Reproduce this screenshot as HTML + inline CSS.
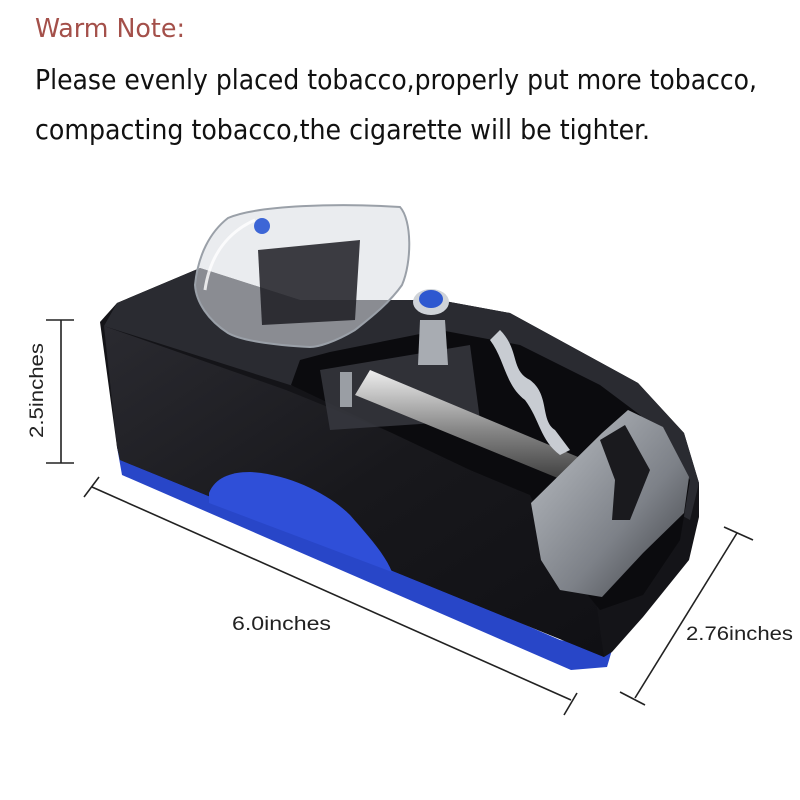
<!DOCTYPE html>
<html><head><meta charset="utf-8"><style>
html,body{margin:0;padding:0;background:#fff;width:800px;height:800px;overflow:hidden}
svg{display:block}
</style></head><body>
<svg width="800" height="800" viewBox="0 0 800 800" xmlns="http://www.w3.org/2000/svg">
<defs>
<linearGradient id="front" x1="0" y1="0" x2="1" y2="1">
<stop offset="0" stop-color="#2a2a30"/><stop offset="0.5" stop-color="#18181c"/><stop offset="1" stop-color="#101014"/></linearGradient>
<linearGradient id="rod" x1="0" y1="0" x2="0" y2="1">
<stop offset="0" stop-color="#eee"/><stop offset="0.5" stop-color="#888"/><stop offset="1" stop-color="#333"/></linearGradient>
<linearGradient id="tray" x1="0" y1="0" x2="1" y2="1">
<stop offset="0" stop-color="#bfc3c8"/><stop offset="0.6" stop-color="#7d8188"/><stop offset="1" stop-color="#3a3c40"/></linearGradient>
</defs>
<g font-family="'DejaVu Sans Condensed','Liberation Sans Narrow','Liberation Sans',sans-serif">
<text x="35" y="37" font-size="26" fill="#a4504a" textLength="150" lengthAdjust="spacingAndGlyphs">Warm Note:</text>
<text x="35" y="89" font-size="28" fill="#111" textLength="722" lengthAdjust="spacingAndGlyphs">Please evenly placed tobacco,properly put more tobacco,</text>
<text x="35" y="139" font-size="28" fill="#111" textLength="615" lengthAdjust="spacingAndGlyphs">compacting tobacco,the cigarette will be tighter.</text>
</g>
<!-- blue base -->
<path d="M117,447 L122,475 L571,670 L607,667 L612,650 L560,640 Z" fill="#2846c8"/>
<!-- body silhouette -->
<path d="M117,303 L200,268 L300,300 L439,300 L510,313 L638,383 L684,433 L699,483 L699,517 L689,560 L643,617 L612,652 L604,657 L120,460 L117,447 L100,322 Z" fill="#141418"/>
<!-- top surface -->
<path d="M117,303 L200,268 L300,300 L439,300 L510,313 L638,383 L684,433 L699,483 L690,520 L600,470 L530,440 L290,385 L104,326 Z" fill="#2a2b31"/>
<!-- front face -->
<path d="M104,326 L286,390 L525,487 L560,520 L597,607 L604,657 L120,460 L117,447 Z" fill="url(#front)"/>
<!-- blue arch -->
<path d="M209,503 L209,493 C215,478 230,472 250,472 C290,474 330,495 350,515 C372,540 385,555 392,572 Z" fill="#2f4fd8"/>
<!-- cavity -->
<path d="M291,385 L300,360 L330,352 L440,330 L520,345 L600,385 L640,415 L690,480 L680,540 L643,595 L600,610 L560,560 L530,495 L470,470 Z" fill="#0b0b0e"/>
<!-- mechanism -->
<path d="M320,370 L470,345 L480,420 L330,430 Z" fill="#3a3b42" opacity="0.8"/>
<path d="M355,395 L370,370 L590,462 L582,488 Z" fill="url(#rod)"/>
<path d="M500,330 C520,350 510,370 530,380 C550,395 540,420 555,430 L570,450 L560,455 C540,440 540,420 525,400 C505,385 505,360 490,340 Z" fill="#c8ccd2"/>
<path d="M420,320 L445,320 L448,365 L418,365 Z" fill="#a8acb2"/>
<rect x="340" y="372" width="12" height="35" fill="#9a9ea4"/>
<!-- tray -->
<path d="M531,503 L602,433 L628,410 L663,427 L689,477 L684,513 L643,553 L602,597 L560,590 L541,560 Z" fill="url(#tray)"/>
<path d="M600,440 L625,425 L650,470 L630,520 L612,520 L615,480 Z" fill="#1a1a1e"/>
<!-- knob -->
<ellipse cx="431" cy="302" rx="18" ry="13" fill="#cfd3d8"/>
<ellipse cx="431" cy="299" rx="12" ry="9" fill="#2e58d0"/>
<!-- lid -->
<path d="M195,285 C198,255 210,232 228,218 C258,205 340,203 400,207 C412,220 412,262 402,285 C388,305 365,322 355,330 C335,342 318,347 310,347 C270,345 240,340 228,333 C208,320 196,302 195,285 Z" fill="#d9dde2" fill-opacity="0.55" stroke="#9aa0a8" stroke-width="2"/>
<path d="M258,250 L360,240 L355,320 L262,325 Z" fill="#1c1c22" opacity="0.85"/>
<path d="M205,290 C210,255 228,232 255,220" stroke="#fff" stroke-width="3" fill="none" opacity="0.8"/>
<circle cx="262" cy="226" r="8" fill="#3d66d6"/>
<!-- dimension lines -->
<g stroke="#222" stroke-width="1.6" fill="none">
<line x1="61" y1="320" x2="61" y2="463"/>
<line x1="46" y1="320" x2="74" y2="320"/>
<line x1="46" y1="463" x2="74" y2="463"/>
<line x1="92" y1="487" x2="571" y2="700"/>
<line x1="84" y1="497" x2="99" y2="477"/>
<line x1="564" y1="715" x2="577" y2="693"/>
<line x1="737" y1="533" x2="635" y2="698"/>
<line x1="724" y1="527" x2="753" y2="540"/>
<line x1="620" y1="692" x2="645" y2="705"/>
</g>
<g font-family="'Liberation Sans',sans-serif" font-size="19" fill="#222">
<text x="232" y="630" textLength="99" lengthAdjust="spacingAndGlyphs">6.0inches</text>
<text x="686" y="640" textLength="107" lengthAdjust="spacingAndGlyphs">2.76inches</text>
<text transform="translate(43,438) rotate(-90)" textLength="95" lengthAdjust="spacingAndGlyphs">2.5inches</text>
</g>
</svg>
</body></html>
